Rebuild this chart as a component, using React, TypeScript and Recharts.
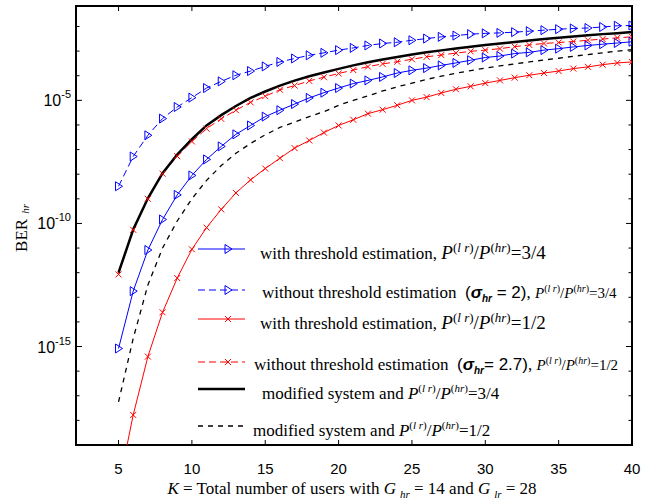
import React from "react";
import { LineChart, Line, XAxis, YAxis, ReferenceArea, Legend } from "recharts";

// K = total number of users
const users = [5, 6, 7, 8, 9, 10, 11, 12, 13, 14, 15, 16, 17, 18, 19, 20, 21, 22, 23, 24, 25, 26, 27, 28, 29, 30, 31, 32, 33, 34, 35, 36, 37, 38, 39, 40];

// BER values as log10 exponents
const withThr34 = [-15.08, -12.75, -11.08, -9.84, -8.84, -8.05, -7.4, -6.87, -6.38, -6.02, -5.66, -5.4, -5.15, -4.9, -4.69, -4.5, -4.32, -4.19, -4.05, -3.89, -3.78, -3.69, -3.58, -3.48, -3.37, -3.26, -3.2, -3.1, -3.05, -2.96, -2.9, -2.83, -2.77, -2.72, -2.67, -2.62];
const withoutThr34 = [-8.49, -7.28, -6.42, -5.74, -5.27, -4.89, -4.5, -4.23, -3.98, -3.81, -3.62, -3.44, -3.3, -3.17, -3.07, -2.96, -2.87, -2.77, -2.69, -2.64, -2.56, -2.49, -2.42, -2.37, -2.31, -2.28, -2.26, -2.23, -2.19, -2.15, -2.11, -2.08, -2.06, -2.02, -1.97, -1.96];
const withThr12 = [-20.7, -17.78, -15.41, -13.61, -12.22, -11.05, -10.17, -9.43, -8.76, -8.23, -7.77, -7.35, -6.94, -6.63, -6.31, -6.02, -5.79, -5.54, -5.38, -5.2, -5.0, -4.87, -4.7, -4.55, -4.43, -4.3, -4.19, -4.08, -3.98, -3.89, -3.81, -3.71, -3.64, -3.55, -3.48, -3.44];
const withoutThr12 = [-12.07, -10.26, -9.0, -7.98, -7.27, -6.67, -6.15, -5.75, -5.4, -5.08, -4.83, -4.57, -4.4, -4.21, -4.06, -3.91, -3.77, -3.63, -3.52, -3.43, -3.33, -3.23, -3.16, -3.08, -3.01, -2.96, -2.9, -2.82, -2.75, -2.69, -2.65, -2.61, -2.56, -2.51, -2.46, -2.42];
const modified34 = [-12.0, -10.25, -8.98, -7.96, -7.2, -6.58, -6.02, -5.6, -5.23, -4.9, -4.64, -4.4, -4.2, -4.02, -3.87, -3.72, -3.58, -3.45, -3.34, -3.24, -3.14, -3.05, -2.97, -2.89, -2.82, -2.75, -2.69, -2.63, -2.57, -2.51, -2.46, -2.41, -2.36, -2.31, -2.27, -2.22];
const modified12 = [-17.25, -14.67, -12.5, -11.0, -9.9, -9.0, -8.25, -7.65, -7.15, -6.75, -6.4, -6.1, -5.88, -5.66, -5.46, -5.2, -5.0, -4.82, -4.62, -4.45, -4.3, -4.15, -4.02, -3.9, -3.79, -3.69, -3.6, -3.52, -3.44, -3.36, -3.29, -3.21, -3.14, -3.07, -3.0, -2.94];

const xTicks = [5, 10, 15, 20, 25, 30, 35, 40];
const yDecades = [-19, -18, -17, -16, -15, -14, -13, -12, -11, -10, -9, -8, -7, -6, -5, -4, -3, -2];
const yLabelled = [-5, -10, -15];

const X_MIN = 2.1;
const X_MAX = 40;
const Y_MIN = 1e-19;
const Y_MAX = 0.068;

const PLOT_LEFT = 76;
const PLOT_RIGHT = 632;
const PLOT_TOP = 6;
const PLOT_BOTTOM = 445;

const SANS = "'Liberation Sans', Arial, sans-serif";
const SERIF = "'Liberation Serif', 'Times New Roman', serif";

const data = users.map((k, i) => ({
  k,
  withThr34: Math.pow(10, withThr34[i]),
  withoutThr34: Math.pow(10, withoutThr34[i]),
  withThr12: Math.pow(10, withThr12[i]),
  withoutThr12: Math.pow(10, withoutThr12[i]),
  modified34: Math.pow(10, modified34[i]),
  modified12: Math.pow(10, modified12[i]),
}));

const triangle = (color: string) => (props: any) => {
  const { cx, cy, index } = props;
  if (cx == null || cy == null) return <g key={`t-${index}`} />;
  return (
    <path
      key={`t-${index}`}
      d={`M${cx - 3},${cy - 4.5} L${cx + 4},${cy} L${cx - 3},${cy + 4.5} Z`}
      fill="none"
      stroke={color}
      strokeWidth={1}
    />
  );
};

const cross = (color: string) => (props: any) => {
  const { cx, cy, index } = props;
  if (cx == null || cy == null) return <g key={`x-${index}`} />;
  return (
    <path
      key={`x-${index}`}
      d={`M${cx - 3},${cy - 3} L${cx + 3},${cy + 3} M${cx - 3},${cy + 3} L${cx + 3},${cy - 3}`}
      stroke={color}
      strokeWidth={1}
    />
  );
};

function XTick(props: any) {
  const { x, payload } = props;
  return (
    <g>
      <line x1={x} x2={x} y1={PLOT_BOTTOM} y2={PLOT_BOTTOM - 5} stroke="#000" />
      <line x1={x} x2={x} y1={PLOT_TOP} y2={PLOT_TOP + 5} stroke="#000" />
      <text x={x} y={474} textAnchor="middle" fontFamily={SANS} fontSize={15} fill="#000">
        {payload.value}
      </text>
    </g>
  );
}

function YTick(props: any) {
  const { y, payload } = props;
  const exp = Math.round(Math.log10(payload.value));
  const major = yLabelled.includes(exp);
  const len = major ? 6 : 3.5;
  return (
    <g>
      <line x1={PLOT_LEFT} x2={PLOT_LEFT + len} y1={y} y2={y} stroke="#000" />
      <line x1={PLOT_RIGHT} x2={PLOT_RIGHT - len} y1={y} y2={y} stroke="#000" />
      {major && (
        <text x={71} y={y + 6} textAnchor="end" fontFamily={SANS} fontSize={16} fill="#000">
          10
          <tspan dy={-8} fontSize={11}>
            {String(exp)}
          </tspan>
        </text>
      )}
    </g>
  );
}

const XTitle = () => (
  <text x={352} y={494} textAnchor="middle" fontFamily={SERIF} fontSize={17} fill="#000">
    <tspan fontStyle="italic">K</tspan>
    <tspan>{" = Total number of users with "}</tspan>
    <tspan fontStyle="italic">G</tspan>
    <tspan dx={4} dy={4} fontSize={11} fontStyle="italic">hr</tspan>
    <tspan dy={-4}>{" = 14 and "}</tspan>
    <tspan fontStyle="italic">G</tspan>
    <tspan dx={4} dy={4} fontSize={11} fontStyle="italic">lr</tspan>
    <tspan dy={-4}>{" = 28"}</tspan>
  </text>
);

const YTitle = () => (
  <text transform="translate(27,228) rotate(-90)" textAnchor="middle" fontFamily={SERIF} fontSize={17} fill="#000">
    BER
    <tspan dx={5} dy={2} fontSize={11} fontStyle="italic">hr</tspan>
  </text>
);

const Ratio = ({ value, size, sup }: { value: string; size: number; sup: number }) => (
  <span style={{ fontSize: size }}>
    <i>P</i>
    <sup style={{ fontSize: sup }}>
      (<i>l r</i>)
    </sup>
    /<i>P</i>
    <sup style={{ fontSize: sup }}>
      (<i>hr</i>)
    </sup>
    ={value}
  </span>
);

const Sigma = ({ value }: { value: string }) => (
  <span style={{ fontFamily: SANS, fontSize: 17 }}>
    (<b><i>σ</i></b>
    <sub style={{ fontSize: 10 }}>
      <b><i>hr</i></b>
    </sub>
    {value})
  </span>
);

const legendRows = [
  { lineY: 249, textX: 260, color: "#0000ff", dash: undefined, width: 1, marker: "tri", label: <>with threshold estimation, <Ratio value="3/4" size={19} sup={13} /></> },
  { lineY: 290, textX: 262, color: "#0000ff", dash: "7 4", width: 1, marker: "tri", label: <>without threshold estimation&nbsp; <Sigma value=" = 2" />, <Ratio value="3/4" size={15} sup={10} /></> },
  { lineY: 319, textX: 260, color: "#ff0000", dash: undefined, width: 1, marker: "x", label: <>with threshold estimation, <Ratio value="1/2" size={19} sup={13} /></> },
  { lineY: 362, textX: 254, color: "#ff0000", dash: "7 4", width: 1, marker: "x", label: <>without threshold estimation&nbsp; <Sigma value="= 2.7" />, <Ratio value="1/2" size={15} sup={10} /></> },
  { lineY: 389, textX: 262, color: "#000000", dash: undefined, width: 2.5, marker: "none", label: <>modified system and <Ratio value="3/4" size={17} sup={11} /></> },
  { lineY: 426, textX: 253, color: "#000000", dash: "5 5", width: 1.3, marker: "none", label: <>modified system and <Ratio value="1/2" size={17} sup={11} /></> },
];

const renderLegend = () => (
  <div style={{ position: "relative", width: 655, height: 500 }}>
    {legendRows.map((row, i) => (
      <div key={i}>
        <svg
          width={60}
          height={16}
          style={{ position: "absolute", left: 190, top: row.lineY - 8 }}
        >
          <line x1={8} x2={55} y1={8} y2={8} stroke={row.color} strokeWidth={row.width} strokeDasharray={row.dash} />
          {row.marker === "tri" && <path d="M35,3.5 L42,8 L35,12.5 Z" fill="none" stroke={row.color} />}
          {row.marker === "x" && <path d="M35,5 L41,11 M35,11 L41,5" stroke={row.color} />}
        </svg>
        <div
          style={{
            position: "absolute",
            left: row.textX,
            top: row.lineY - 11,
            fontFamily: SERIF,
            fontSize: 17,
            lineHeight: "20px",
            whiteSpace: "nowrap",
            color: "#000",
          }}
        >
          {row.label}
        </div>
      </div>
    ))}
  </div>
);

export default function App() {
  return (
    <div style={{ position: "absolute", left: 0, top: 0, width: 655, height: 500, background: "#fff" }}>
      <LineChart width={655} height={500} data={data} margin={{ top: PLOT_TOP, right: 655 - PLOT_RIGHT, bottom: 0, left: 0 }}>
        <XAxis
          dataKey="k"
          type="number"
          domain={[X_MIN, X_MAX]}
          ticks={xTicks}
          interval={0}
          allowDataOverflow
          height={500 - PLOT_BOTTOM}
          axisLine={false}
          tickLine={false}
          tick={<XTick />}
          label={{ content: <XTitle /> }}
        />
        <YAxis
          scale="log"
          domain={[Y_MIN, Y_MAX]}
          ticks={yDecades.map((e) => Math.pow(10, e))}
          interval={0}
          allowDataOverflow
          width={PLOT_LEFT}
          axisLine={false}
          tickLine={false}
          tick={<YTick />}
          label={{ content: <YTitle /> }}
        />
        <Line dataKey="modified12" stroke="#000" strokeWidth={1.3} strokeDasharray="5 5" dot={false} isAnimationActive={false} />
        <Line dataKey="withThr12" stroke="#ff0000" strokeWidth={1} dot={cross("#ff0000")} isAnimationActive={false} />
        <Line dataKey="withThr34" stroke="#0000ff" strokeWidth={1} dot={triangle("#0000ff")} isAnimationActive={false} />
        <Line dataKey="withoutThr12" stroke="#ff0000" strokeWidth={1} strokeDasharray="7 4" dot={cross("#ff0000")} isAnimationActive={false} />
        <Line dataKey="modified34" stroke="#000" strokeWidth={2.5} dot={false} isAnimationActive={false} />
        <Line dataKey="withoutThr34" stroke="#0000ff" strokeWidth={1} strokeDasharray="7 4" dot={triangle("#0000ff")} isAnimationActive={false} />
        <ReferenceArea x1={X_MIN} x2={X_MAX} y1={Y_MIN} y2={Y_MAX} fill="none" stroke="#000" strokeWidth={2} ifOverflow="visible" />
        <Legend
          layout="vertical"
          align="center"
          verticalAlign="middle"
          wrapperStyle={{ left: 0, top: 0, width: 655, height: 500, pointerEvents: "none" }}
          content={renderLegend}
        />
      </LineChart>
    </div>
  );
}
